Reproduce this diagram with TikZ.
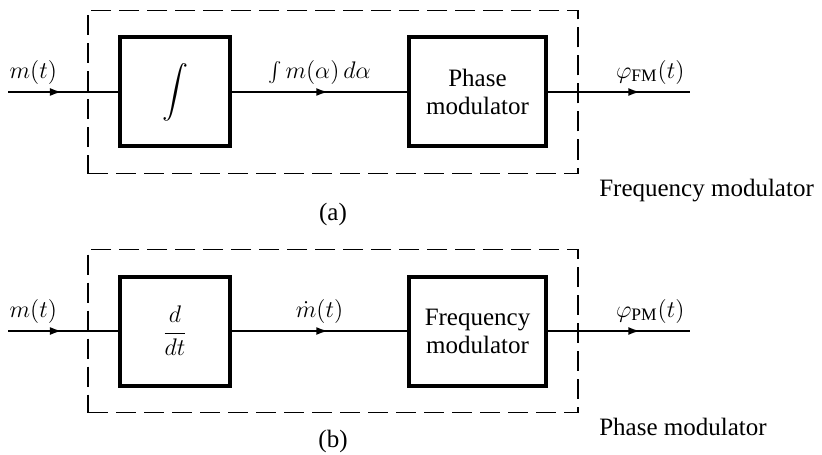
\documentclass[tikz,border=0pt]{standalone}
\usepackage{fontspec}
\setmainfont{Liberation Serif}
\usetikzlibrary{arrows.meta,positioning,fit,decorations.markings}

\begin{document}
\begin{tikzpicture}[
    x=0.5pt,y=-0.5pt,
    font=\fontsize{12.5}{14}\selectfont,
    blk/.style={draw,line width=2pt,minimum width=55pt,minimum height=54.5pt,align=center,inner sep=2pt},
    wideblk/.style={blk,minimum width=68.5pt},
    dashbox/.style={draw,dash pattern=on 10pt off 4pt,line width=0.9pt,inner xsep=15pt,inner ysep=12.5pt},
    sigline/.style={line width=1pt,postaction={decorate},
      decoration={markings,mark=at position #1 with {\arrow{Latex[length=6pt,width=4pt]}}}},
    sigline/.default=0.5
  ]
    \useasboundingbox (0,0) rectangle (822,454);
    % (a) frequency modulator built from a phase modulator
    \node[blk] (intg) at (175,92) {\scalebox{1.3}{$\displaystyle\int$}};
    \node[wideblk,right=87.5pt of intg] (pmod) {Phase\\modulator};
    \coordinate (inA) at (8,92);
    \coordinate (outA) at (690,92);
    \node[dashbox,fit=(intg)(pmod)] (fmA) {};
    \node[below right=2pt and 10pt of fmA.south east,inner sep=0pt] (capA) {Frequency modulator};
    \node[below=14pt of fmA,inner sep=0pt] (tagA) {(a)};
    \draw[sigline=0.49] (inA) -- node[above,pos=0.23] (lblmA) {$m(t)$} (intg);
    \draw[sigline=0.55] (intg) -- node[above,pos=0.5] (lblint) {$\int m(\alpha)\,d\alpha$} (pmod);
    \draw[sigline=0.65] (pmod) -- node[above,pos=0.72] (lblfm) {$\varphi_{\mathrm{FM}}(t)$} (outA);
    % (b) phase modulator built from a frequency modulator
    \node[blk] (diff) at (175,331) {$\displaystyle\frac{d}{dt}$};
    \node[wideblk,right=87.5pt of diff] (fmod) {Frequency\\modulator};
    \coordinate (inB) at (8,331);
    \coordinate (outB) at (690,331);
    \node[dashbox,fit=(diff)(fmod)] (pmB) {};
    \node[below right=2pt and 10pt of pmB.south east,inner sep=0pt] (capB) {Phase modulator};
    \node[below=8pt of pmB,inner sep=0pt] (tagB) {(b)};
    \draw[sigline=0.49] (inB) -- node[above,pos=0.23] (lblmB) {$m(t)$} (diff);
    \draw[sigline=0.55] (diff) -- node[above,pos=0.5] (lbldot) {$\dot m(t)$} (fmod);
    \draw[sigline=0.65] (fmod) -- node[above,pos=0.72] (lblpm) {$\varphi_{\mathrm{PM}}(t)$} (outB);
\end{tikzpicture}
\end{document}
